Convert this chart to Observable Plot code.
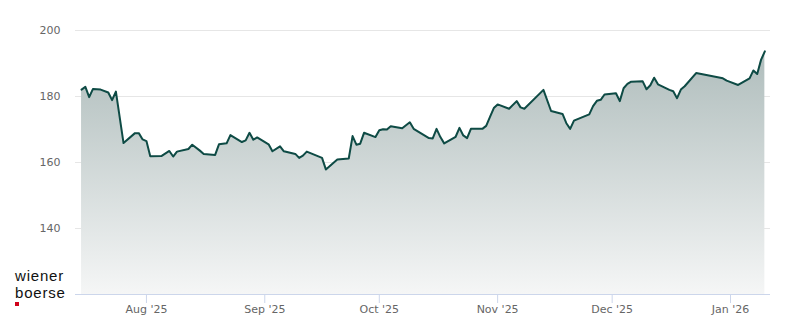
<!DOCTYPE html>
<html>
<head>
<meta charset="utf-8">
<script src="https://cdn.jsdelivr.net/npm/d3@7"></script>
<script src="https://cdn.jsdelivr.net/npm/@observablehq/plot@0.6"></script>
<style>
  html, body { margin: 0; padding: 0; background: #fff; }
  #chart { width: 800px; height: 324px; }
</style>
</head>
<body>
<div id="chart"></div>
<script>
const dates = ["2025-07-15","2025-07-16","2025-07-17","2025-07-18","2025-07-20","2025-07-22","2025-07-23","2025-07-24","2025-07-26","2025-07-29","2025-07-30","2025-07-31",
"2025-08-01","2025-08-02","2025-08-05","2025-08-07","2025-08-08","2025-08-09","2025-08-12","2025-08-13","2025-08-15","2025-08-16","2025-08-19","2025-08-20","2025-08-22","2025-08-23","2025-08-26","2025-08-27","2025-08-28","2025-08-29","2025-08-30",
"2025-09-02","2025-09-03","2025-09-05","2025-09-06","2025-09-09","2025-09-10","2025-09-11","2025-09-12","2025-09-16","2025-09-17","2025-09-20","2025-09-23","2025-09-24","2025-09-25","2025-09-26","2025-09-27","2025-09-30",
"2025-10-01","2025-10-02","2025-10-03","2025-10-04","2025-10-07","2025-10-09","2025-10-10","2025-10-14","2025-10-15","2025-10-16","2025-10-17","2025-10-18","2025-10-21","2025-10-22","2025-10-23","2025-10-24","2025-10-25","2025-10-28","2025-10-29","2025-10-30","2025-10-31",
"2025-11-01","2025-11-04","2025-11-06","2025-11-07","2025-11-08","2025-11-13","2025-11-15","2025-11-18","2025-11-19","2025-11-20","2025-11-21","2025-11-25","2025-11-26","2025-11-27","2025-11-28","2025-11-29",
"2025-12-02","2025-12-03","2025-12-04","2025-12-05","2025-12-06","2025-12-09","2025-12-10","2025-12-11","2025-12-12","2025-12-13","2025-12-16","2025-12-17","2025-12-18","2025-12-19","2025-12-20","2025-12-23","2025-12-24","2025-12-30","2025-12-31",
"2026-01-03","2026-01-06","2026-01-07","2026-01-08","2026-01-09","2026-01-10"];

const values = [182.1,182.9,179.8,182.3,182.1,181.2,178.9,181.5,165.9,168.9,168.9,167.0,
166.5,161.9,162.0,163.5,161.8,163.3,164.1,165.4,163.6,162.6,162.3,165.5,165.8,168.3,166.2,166.7,169.0,166.9,167.6,
165.5,163.4,164.9,163.4,162.6,161.4,162.1,163.3,161.4,157.9,160.9,161.2,168.0,165.4,165.7,169.0,167.7,
169.8,170.1,170.0,171.0,170.4,172.2,170.2,167.4,167.3,170.2,167.7,165.8,167.8,170.5,168.2,167.4,170.2,170.2,171.1,173.8,176.5,
177.6,176.3,178.6,176.7,176.3,182.0,175.6,174.7,171.9,170.2,172.7,174.6,177.1,178.7,179.0,180.6,
181.0,178.6,182.5,183.8,184.5,184.6,182.2,183.4,185.7,183.7,182.0,181.6,179.5,182.1,183.1,187.1,186.9,185.5,184.8,
183.5,185.5,187.9,186.8,191.1,193.7];

const xTickDates = ["2025-08-01","2025-09-01","2025-10-01","2025-11-01","2025-12-01","2026-01-01"];
const xTickLabels = ["Aug '25","Sep '25","Oct '25","Nov '25","Dec '25","Jan '26"];
const yTicks = [140, 160, 180, 200];
const yBase = 120;
const xDomain = ["2025-07-13T10:00:00Z", "2026-01-11T11:30:00Z"];
const logoLines = ["wiener", "boerse"];

const data = dates.map((d, i) => ({date: new Date(d + "T00:00:00Z"), value: values[i]}));
const tickDates = xTickDates.map(d => new Date(d + "T00:00:00Z"));

const chart = Plot.plot({
  width: 800,
  height: 324,
  marginLeft: 75,
  marginRight: 30,
  marginTop: 30,
  marginBottom: 30,
  style: {fontFamily: "DejaVu Sans", fontSize: "11px", background: "#fff", overflow: "visible"},
  x: {type: "utc", domain: xDomain.map(d => new Date(d))},
  y: {domain: [yBase, 200]},
  marks: [
    Plot.gridY(yTicks, {stroke: "#e6e6e6", strokeOpacity: 1}),
    Plot.areaY(data, {x: "date", y1: yBase, y2: "value", fill: "url(#wbGrad)"}),
    Plot.lineY(data, {x: "date", y: "value", stroke: "#0e4b45", strokeWidth: 2, strokeLinejoin: "round"}),
    Plot.ruleY([yBase], {stroke: "#ccd6eb", strokeOpacity: 1}),
    Plot.axisX({
      ticks: tickDates,
      tickFormat: d => xTickLabels[tickDates.findIndex(t => +t === +d)],
      tickSize: 9, tickPadding: 2,
      stroke: "#ccd6eb", strokeOpacity: 1, fill: "#666", fontSize: 11, label: null
    }),
    Plot.axisY({
      ticks: yTicks, tickSize: 0, tickPadding: 15, fill: "#666", fontSize: 11, label: null
    })
  ]
});

document.getElementById("chart").appendChild(chart);

const svg = d3.select(chart);
const defs = svg.insert("defs", ":first-child");
const grad = defs.append("linearGradient")
  .attr("id", "wbGrad")
  .attr("gradientUnits", "userSpaceOnUse")
  .attr("x1", 0).attr("x2", 0).attr("y1", 30).attr("y2", 294);
grad.append("stop").attr("offset", "0%").attr("stop-color", "#a9b8b7");
grad.append("stop").attr("offset", "100%").attr("stop-color", "#f5f6f6");

const logo = svg.append("g")
  .attr("font-family", "'Liberation Sans', Arial, sans-serif")
  .attr("font-size", 15)
  .attr("letter-spacing", 0.8)
  .attr("text-anchor", "start")
  .attr("fill", "#111");
logo.append("text").attr("x", 15).attr("y", 281).text(logoLines[0]);
logo.append("text").attr("x", 15).attr("y", 298).text(logoLines[1]);
logo.append("rect").attr("x", 15).attr("y", 302).attr("width", 4).attr("height", 4).attr("fill", "#d0021b");
</script>
</body>
</html>
